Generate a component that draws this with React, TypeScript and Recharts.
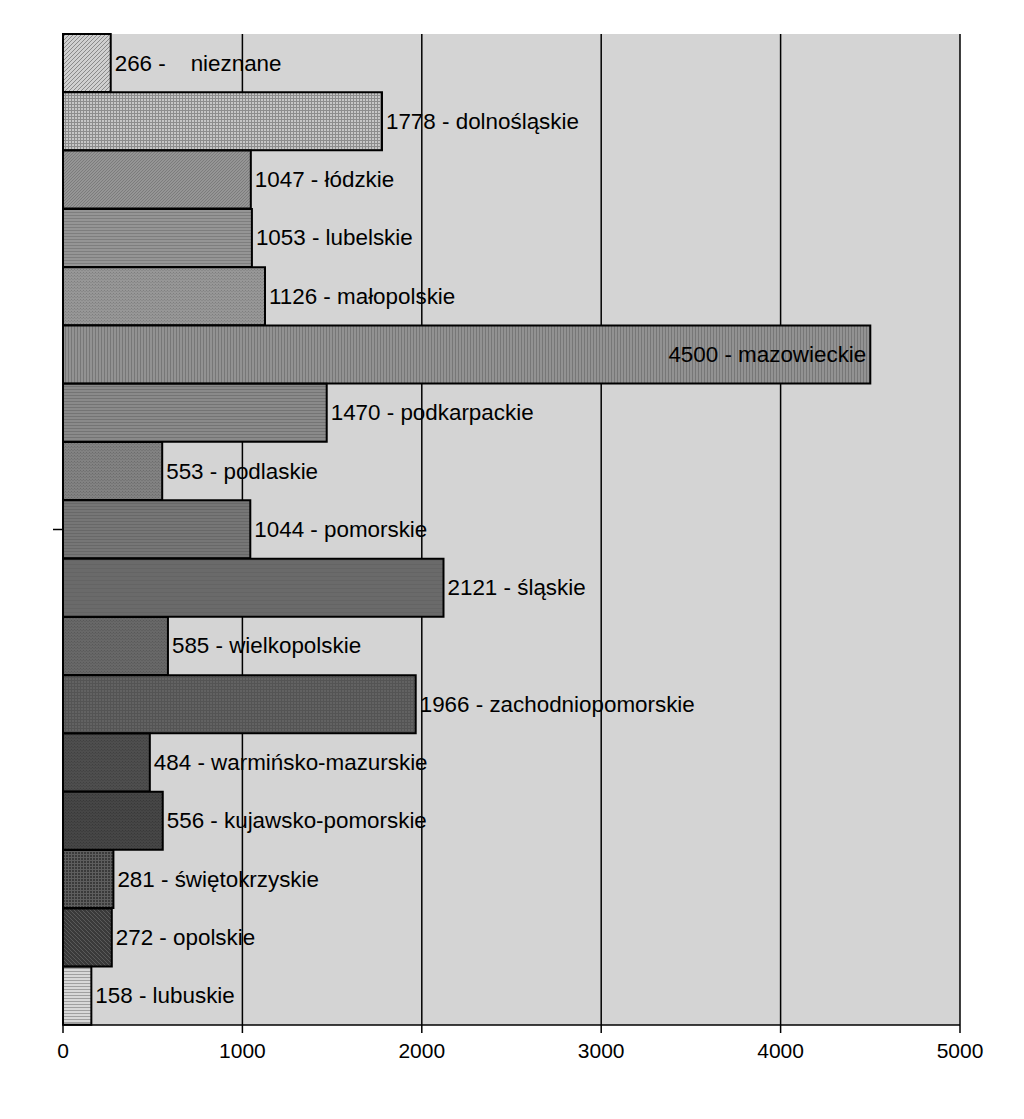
import React from 'react';
import { BarChart, Bar, XAxis, YAxis, CartesianGrid, Cell, LabelList } from 'recharts';

// ─── Data ─────────────────────────────────────────────────────────────────────

const regions = [
    'nieznane',
    'dolnośląskie',
    'łódzkie',
    'lubelskie',
    'małopolskie',
    'mazowieckie',
    'podkarpackie',
    'podlaskie',
    'pomorskie',
    'śląskie',
    'wielkopolskie',
    'zachodniopomorskie',
    'warmińsko-mazurskie',
    'kujawsko-pomorskie',
    'świętokrzyskie',
    'opolskie',
    'lubuskie',
];
const counts = [266, 1778, 1047, 1053, 1126, 4500, 1470, 553, 1044, 2121, 585, 1966, 484, 556, 281, 272, 158];
const xTicks = [0, 1000, 2000, 3000, 4000, 5000];

const data = regions.map((name, i) => ({ name, value: counts[i] }));

// ─── Bar fill patterns (one per bar) ──────────────────────────────────────────

type Kind = 'diag' | 'back' | 'grid' | 'h' | 'v' | 'dots';
const fills: { bg: string; fg: string; kind: Kind; s: number }[] = [
    { bg: '#d0d0d0', fg: '#8a8a8a', kind: 'diag', s: 4 },
    { bg: '#c6c6c6', fg: '#8c8c8c', kind: 'grid', s: 3 },
    { bg: '#959595', fg: '#7c7c7c', kind: 'diag', s: 3 },
    { bg: '#959595', fg: '#7e7e7e', kind: 'h', s: 3 },
    { bg: '#979797', fg: '#7e7e7e', kind: 'dots', s: 3 },
    { bg: '#929292', fg: '#777777', kind: 'v', s: 3 },
    { bg: '#8a8a8a', fg: '#747474', kind: 'h', s: 3 },
    { bg: '#828282', fg: '#6c6c6c', kind: 'dots', s: 3 },
    { bg: '#767676', fg: '#686868', kind: 'h', s: 3 },
    { bg: '#6a6a6a', fg: '#646464', kind: 'h', s: 4 },
    { bg: '#686868', fg: '#585858', kind: 'dots', s: 3 },
    { bg: '#626262', fg: '#545454', kind: 'grid', s: 3 },
    { bg: '#4e4e4e', fg: '#404040', kind: 'dots', s: 3 },
    { bg: '#464646', fg: '#383838', kind: 'dots', s: 3 },
    { bg: '#3a3a3a', fg: '#5e5e5e', kind: 'grid', s: 3 },
    { bg: '#3a3a3a', fg: '#5a5a5a', kind: 'back', s: 4 },
    { bg: '#d8d8d8', fg: '#a0a0a0', kind: 'h', s: 3 },
];

function patternPath(kind: Kind, s: number): string {
    switch (kind) {
        case 'diag':
            return `M0,${s} L${s},0 M-1,1 L1,-1 M${s - 1},${s + 1} L${s + 1},${s - 1}`;
        case 'back':
            return `M0,0 L${s},${s} M-1,${s - 1} L1,${s + 1} M${s - 1},-1 L${s + 1},1`;
        case 'grid':
            return `M0,0.5 H${s} M0.5,0 V${s}`;
        case 'h':
            return `M0,0.5 H${s}`;
        case 'v':
            return `M0.5,0 V${s}`;
        case 'dots':
            return `M0,0.5 H1 M1.5,1.5 H2.5`;
    }
}

// ─── Value labels ─────────────────────────────────────────────────────────────

const BarLabel = (props: any) => {
    const { x, y, width, height, value, index } = props;
    const name = regions[index];
    const text = name === 'nieznane' ? `${value} -    ${name}` : `${value} - ${name}`;
    const inside = value > 4000;
    return (
        <text
            x={inside ? x + width - 4 : x + width + 4}
            y={y + height / 2}
            textAnchor={inside ? 'end' : 'start'}
            dominantBaseline="central"
            fontSize={22.4}
            fill="#000"
            style={{ whiteSpace: 'pre' }}
        >
            {text}
        </text>
    );
};

// ─── Chart ────────────────────────────────────────────────────────────────────

export default function App() {
    return (
        <div style={{ width: 1000, height: 1100, fontFamily: '"Liberation Sans", Arial, sans-serif' }}>
            <BarChart
                width={1000}
                height={1100}
                data={data}
                layout="vertical"
                barCategoryGap={0}
                margin={{ top: 26, right: 48, left: 45, bottom: 43 }}
            >
                <defs>
                    {fills.map((f, i) => (
                        <pattern key={i} id={`pat${i}`} width={f.s} height={f.s} patternUnits="userSpaceOnUse">
                            <rect width={f.s} height={f.s} fill={f.bg} />
                            <path d={patternPath(f.kind, f.s)} stroke={f.fg} strokeWidth={1} />
                        </pattern>
                    ))}
                </defs>
                {/* background, then labels, then grid lines over the labels, then the bars */}
                <CartesianGrid horizontal={false} vertical={false} fill="#d4d4d4" />
                <Bar dataKey="value" yAxisId="lab" fill="none" stroke="none" isAnimationActive={false}>
                    <LabelList dataKey="value" content={<BarLabel />} />
                </Bar>
                <CartesianGrid horizontal={false} stroke="#000" strokeWidth={1.5} />
                <XAxis
                    type="number"
                    domain={[0, 5000]}
                    ticks={xTicks}
                    tick={{ fill: '#000', fontSize: 21, dy: 8 }}
                    tickSize={8}
                    tickLine={{ stroke: '#000', strokeWidth: 1.5 }}
                    axisLine={{ stroke: '#000', strokeWidth: 1.5 }}
                    height={40}
                />
                <XAxis
                    xAxisId="top"
                    orientation="top"
                    type="number"
                    domain={[0, 5000]}
                    height={0}
                    tick={false}
                    tickLine={false}
                    axisLine={{ stroke: '#000', strokeWidth: 1.5 }}
                />
                <YAxis yAxisId="lab" type="category" dataKey="name" hide />
                <YAxis
                    yAxisId="cat"
                    type="category"
                    dataKey="name"
                    ticks={['pomorskie']}
                    interval={0}
                    width={10}
                    tickSize={10}
                    tickFormatter={() => ''}
                    tickLine={{ stroke: '#000', strokeWidth: 1.5 }}
                    axisLine={{ stroke: '#000', strokeWidth: 1.5 }}
                />
                <Bar dataKey="value" yAxisId="cat" stroke="#000" strokeWidth={2} isAnimationActive={false}>
                    {data.map((_, i) => (
                        <Cell key={i} fill={`url(#pat${i})`} />
                    ))}
                </Bar>
            </BarChart>
        </div>
    );
}
